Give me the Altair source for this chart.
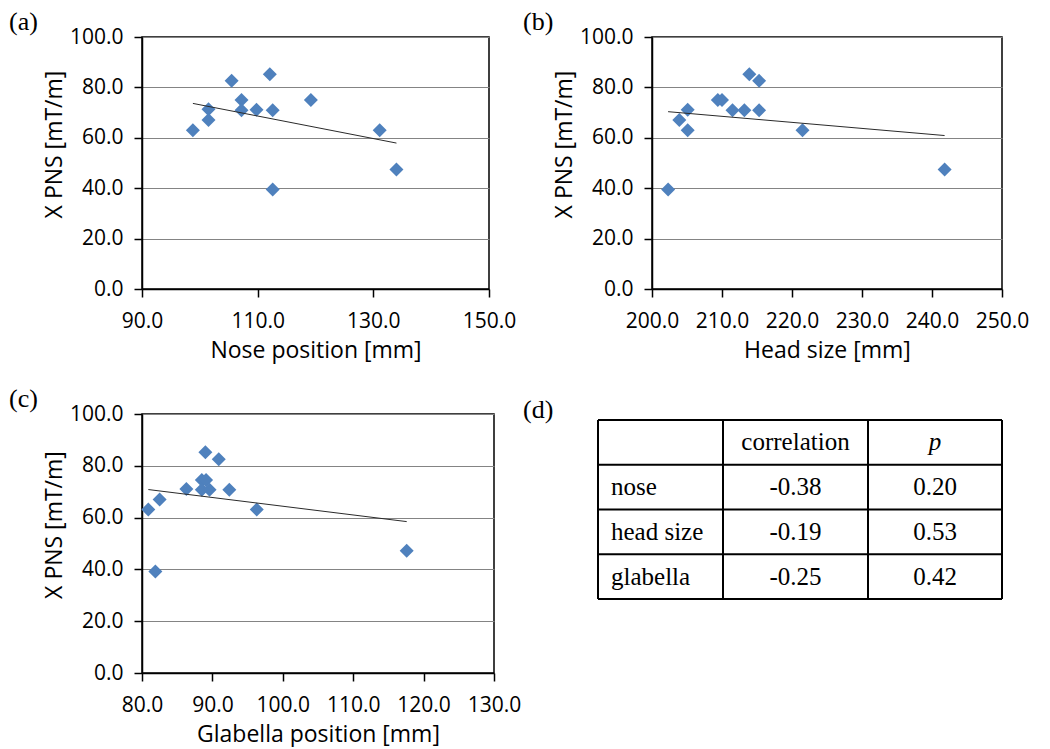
import altair as alt
import pandas as pd

# ---------------- data ----------------
# (a) nose position vs X PNS
nose_pos = [98.8, 101.5, 101.5, 105.5, 107.2, 107.2, 109.8, 112.1, 112.6, 112.6, 119.2, 131.1, 134.0]
pns_nose = [63.0, 71.3, 67.1, 82.6, 75.0, 70.9, 71.1, 85.2, 70.9, 39.5, 75.0, 63.0, 47.4]
# (b) head size vs X PNS
head_size = [202.3, 203.9, 205.1, 205.1, 209.4, 210.0, 211.5, 213.2, 213.9, 215.3, 215.3, 221.5, 241.8]
pns_head = [39.5, 67.1, 71.1, 63.0, 75.0, 75.0, 70.9, 70.9, 85.2, 82.6, 70.9, 63.0, 47.4]
# (c) glabella position vs X PNS
glabella_pos = [80.9, 81.9, 82.5, 86.3, 88.5, 88.5, 89.0, 89.1, 89.6, 90.9, 92.4, 96.3, 117.6]
pns_glabella = [63.1, 39.2, 67.0, 71.0, 74.5, 70.8, 85.2, 74.5, 70.8, 82.5, 70.8, 63.1, 47.2]
# (d) table
table_header = ["", "correlation", "p"]
table_rows = ["nose", "head size", "glabella"]
table_corr = ["-0.38", "-0.19", "-0.25"]
table_p = ["0.20", "0.53", "0.42"]

y_ticks = [0, 20, 40, 60, 80, 100]

# ---------------- style ----------------
SANS = "Open Sans"
SERIF = "Liberation Serif"
BLUE = "#4F81BD"


def panel_title(txt, dx):
    return alt.TitleParams(text=txt, anchor="start", frame="group", font=SERIF,
                           fontSize=26, fontWeight="normal", color="black",
                           dx=dx, dy=9, offset=0)


def scatter(xvals, yvals, xtitle, xdomain, xticks, label, dx, width, height):
    df = pd.DataFrame({"x": xvals, "y": yvals})
    base = alt.Chart(df)
    x = alt.X("x:Q", scale=alt.Scale(domain=xdomain, nice=False, zero=False),
              axis=alt.Axis(values=xticks, format=".1f", title=xtitle, grid=False))
    y = alt.Y("y:Q", scale=alt.Scale(domain=[0, 100], nice=False),
              axis=alt.Axis(values=y_ticks, format=".1f", title="X PNS [mT/m]", grid=True,
                            titleY=height / 2 - 19))
    pts = base.mark_point(shape="diamond", filled=True, size=196, color=BLUE,
                          opacity=1).encode(x=x, y=y)
    trend = base.transform_regression("x", "y").mark_line(
        color="#2a2a2a", strokeWidth=1).encode(x=x, y=y)
    return alt.layer(pts, trend).properties(width=width, height=height,
                                            title=panel_title(label, dx))


chart_a = scatter(nose_pos, pns_nose, "Nose position [mm]", [90, 150],
                  [90, 110, 130, 150], "(a)", -133, 347, 252)
chart_b = scatter(head_size, pns_head, "Head size [mm]", [200, 250],
                  [200, 210, 220, 230, 240, 250], "(b)", -129, 350, 252)
chart_c = scatter(glabella_pos, pns_glabella, "Glabella position [mm]", [80, 130],
                  [80, 90, 100, 110, 120, 130], "(c)", -133, 352, 259)

# ---------------- table (d) ----------------
TW = 404
col_edges = [0, 125, 270, TW]          # table column layout
n_lines = len(table_rows) + 1
col_centers = [(col_edges[i] + col_edges[i + 1]) / 2 for i in range(3)]

hlines = pd.DataFrame({"x": [0] * (n_lines + 1), "x2": [TW] * (n_lines + 1),
                       "y": list(range(n_lines + 1)), "y2": list(range(n_lines + 1))})
vlines = pd.DataFrame({"x": col_edges, "x2": col_edges,
                       "y": [0] * 4, "y2": [n_lines] * 4})
lines_df = pd.concat([hlines, vlines], ignore_index=True)

tx = alt.Scale(domain=[0, TW], nice=False, zero=False)
ty = alt.Scale(domain=[-0.134, 5.65], nice=False, zero=False, reverse=True)

grid_layer = alt.Chart(lines_df).mark_rule(color="black", strokeWidth=2).encode(
    x=alt.X("x:Q", scale=tx, axis=None), x2="x2:Q",
    y=alt.Y("y:Q", scale=ty, axis=None), y2="y2:Q")

header_df = pd.DataFrame({"t": [table_header[1]], "x": [col_centers[1]], "y": [0.5]})
header_p_df = pd.DataFrame({"t": [table_header[2]], "x": [col_centers[2]], "y": [0.5]})
row_lab_df = pd.DataFrame({"t": table_rows, "x": [13] * 3, "y": [1.5, 2.5, 3.5]})
val_df = pd.DataFrame({"t": table_corr + table_p,
                       "x": [col_centers[1]] * 3 + [col_centers[2]] * 3,
                       "y": [1.5, 2.5, 3.5] * 2})


def text_layer(df, align, style="normal"):
    return alt.Chart(df).mark_text(font=SERIF, fontSize=25, color="black", align=align,
                                   baseline="middle", fontStyle=style).encode(
        x=alt.X("x:Q", scale=tx, axis=None), y=alt.Y("y:Q", scale=ty, axis=None),
        text="t:N")


chart_d = alt.layer(
    grid_layer,
    text_layer(header_df, "center"),
    text_layer(header_p_df, "center", "italic"),
    text_layer(row_lab_df, "left"),
    text_layer(val_df, "center"),
).properties(width=TW, height=259, title=panel_title("(d)", -75),
             view=alt.ViewBackground(stroke="transparent"))

row1 = alt.hconcat(chart_a, chart_b, spacing=163, bounds="flush")
row2 = alt.hconcat(chart_c, chart_d, spacing=104, bounds="flush")

chart = alt.vconcat(row1, row2, spacing=22).properties(
    padding=0
).configure_view(
    stroke="black", strokeWidth=1.5
).configure_axis(
    domainColor="black", domainWidth=1.5, tickColor="black", tickSize=8, tickWidth=1.5,
    labelFont=SANS, labelFontSize=21, labelColor="black", labelFlush=False,
    labelOverlap=False, titleFont=SANS, titleFontSize=23, titleFontWeight="normal",
    titleColor="black", gridColor="#848484", gridWidth=1.2
).configure_axisX(
    labelPadding=13, titlePadding=8
).configure_axisY(
    labelPadding=11, titlePadding=3
).configure_title(
    font=SERIF
)

chart.save("out.html", embed_options={"renderer": "svg", "actions": False})
